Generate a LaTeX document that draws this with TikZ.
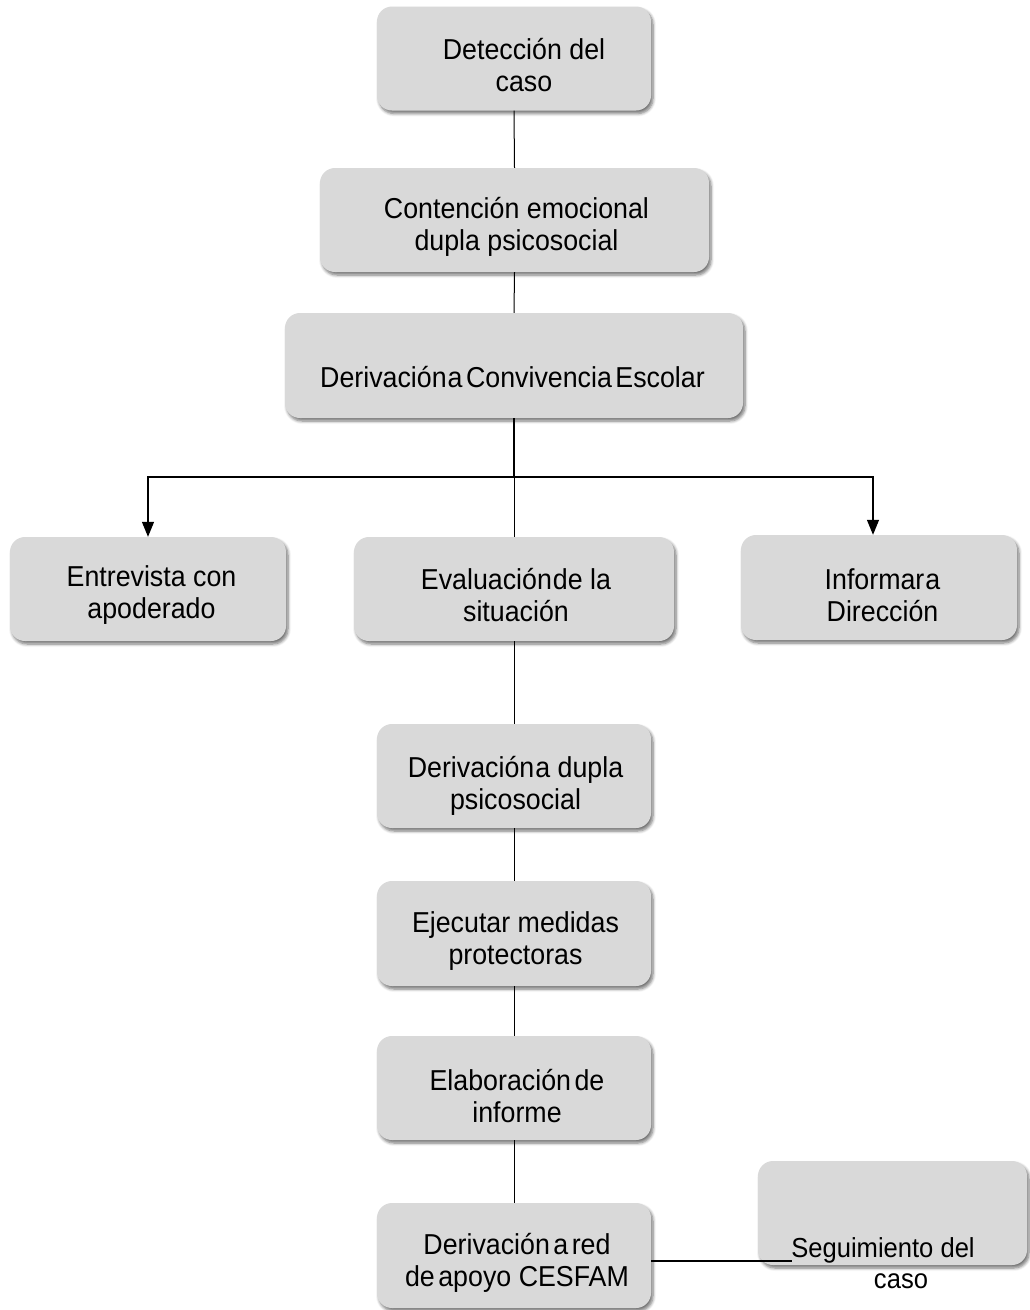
\documentclass[tikz,border=0pt]{standalone}
\usepackage{fontspec}
\setmainfont{Liberation Sans}
% slightly narrowed sans face used inside the boxes
\newfontfamily\boxfont[FakeStretch=0.93]{Liberation Sans}
\usetikzlibrary{arrows.meta,shadows.blur}
\definecolor{boxgray}{HTML}{D9D9D9}
% narrow gaps between words, as set in the chart
\newcommand{\tgap}{\hspace{1pt}}
\newcommand{\sgap}{\hspace{3.5pt}}
\begin{document}
\begin{tikzpicture}[x=1pt,y=-1pt,
  box/.style={fill=boxgray, draw=none, rounded corners=15pt, inner sep=0pt,
    blur shadow={shadow xshift=2pt, shadow yshift=-3pt,
      shadow blur radius=3pt, shadow blur steps=6, shadow opacity=55}},
  std/.style={box, minimum width=274pt, minimum height=104pt},
  txt/.style={align=center, inner sep=0pt, font=\boxfont\fontsize{28.8}{32}\selectfont},
  link/.style={draw=black, line width=1pt},
  trunk/.style={draw=black, line width=2pt},
  arrowlink/.style={link, line width=1.3pt, -{Triangle[width=12pt,length=15pt]}}]
\useasboundingbox (0,0) rectangle (1029,1310);

% boxes of the protocol
\node[std] (b1) at (514,58.5) {};
\node[box, minimum width=389pt, minimum height=104pt] (b2) at (514.5,220) {};
\node[box, minimum width=458pt, minimum height=105pt] (b3) at (514,365.5) {};
\node[box, minimum width=276pt, minimum height=104pt] (b4) at (148,589) {};
\node[box, minimum width=320pt, minimum height=104pt] (b5) at (514,589) {};
\node[box, minimum width=276pt, minimum height=105pt] (b6) at (879,587.5) {};
\node[std] (b7) at (514,776) {};
\node[std, minimum height=105pt] (b8) at (514,933.5) {};
\node[std] (b9) at (514,1088) {};
\node[std, minimum height=105pt] (b10) at (514,1255.5) {};
\node[box, minimum width=269pt, minimum height=104pt] (b11) at (892.5,1213) {};

% texts of the boxes
\node[txt] (t1) at (524,65) {Detección del\\caso};
\node[txt] (t2) at (516.5,226.5) {Contención emocional\\dupla psicosocial};
\node[txt] (t3) at (512.5,377)
  {Derivación\tgap a\sgap Convivencia\sgap Escolar};
\node[txt] (t4) at (151.5,595.5) {Entrevista con\\apoderado};
\node[txt] (t5) at (516,595.5) {Evaluación\tgap de la\\situación};
\node[txt] (t6) at (882.5,595) {Informar\tgap a\\Dirección};
\node[txt] (t7) at (515.5,785.5) {Derivación\tgap a dupla\\psicosocial};
\node[txt] (t8) at (515.5,941.5) {Ejecutar medidas\\protectoras};
\node[txt] (t9) at (517,1096) {Elaboración\sgap de\\informe};
\node[txt] (t10) at (517,1263)
  {Derivación\sgap a\sgap red\\de\sgap apoyo CESFAM};
\node[txt, font=\boxfont\fontsize{27.5}{31}\selectfont] (t11) at (883,1263.5)
  {Seguimiento del\\\hspace*{36pt}caso};

% connectors
\coordinate (split) at (514,477);
\coordinate (follow) at (792,1261);
\draw[link] (b1.south) -- (b2.north);
\draw[link] (b2.south) -- (b3.north);
\draw[trunk] (b3.south) -- (split);
\draw[arrowlink] (split) -| (b4.north);
\draw[arrowlink] (split) -| ([xshift=-6pt]b6.north);
\draw[link] (split) -- (b5.north);
\draw[link] (b5.south) -- (b7.north);
\draw[link] (b7.south) -- (b8.north);
\draw[link] (b8.south) -- (b9.north);
\draw[link] (b9.south) -- (b10.north);
\draw[trunk] (b10.east |- follow) -- (follow);
\end{tikzpicture}
\end{document}
